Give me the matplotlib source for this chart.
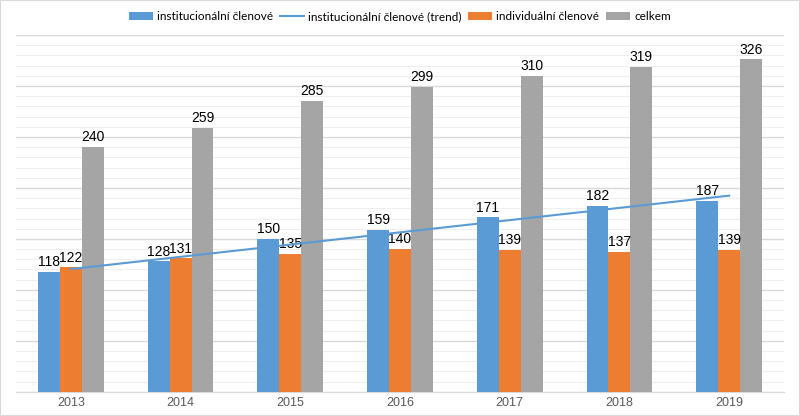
import numpy as np
import matplotlib.pyplot as plt
from matplotlib.ticker import MultipleLocator

years = ['2013', '2014', '2015', '2016', '2017', '2018', '2019']
instit = [118, 128, 150, 159, 171, 182, 187]
indiv = [122, 131, 135, 140, 139, 137, 139]
celkem = [240, 259, 285, 299, 310, 319, 326]

c_blue = '#5B9BD5'
c_orange = '#ED7D31'
c_gray = '#A5A5A5'

fig = plt.figure(figsize=(8, 4.16), dpi=100)
ax = fig.add_axes([0.02, 0.058, 0.96, 0.858])

x = np.arange(len(years))
w = 0.2

b1 = ax.bar(x - w, instit, w, color=c_blue, label='institucionální členové', zorder=3)
b2 = ax.bar(x, indiv, w, color=c_orange, label='individuální členové', zorder=3)
b3 = ax.bar(x + w, celkem, w, color=c_gray, label='celkem', zorder=3)

# linear trend of institutional members
k, q = np.polyfit(x, instit, 1)
ln, = ax.plot(x, k * x + q, color=c_blue, lw=1.5, zorder=4,
              label='institucionální členové (trend)')

for bars in (b1, b2, b3):
    ax.bar_label(bars, padding=2, fontsize=10, color='black', family='Liberation Sans')

ax.set_xlim(-0.5, len(years) - 0.5)
ax.set_ylim(0, 350)
ax.yaxis.set_major_locator(MultipleLocator(50))
ax.yaxis.set_minor_locator(MultipleLocator(10))
ax.grid(axis='y', which='major', color='#d9d9d9', lw=1, zorder=0)
ax.grid(axis='y', which='minor', color='#efefef', lw=0.8, zorder=0)
ax.set_yticklabels([])
ax.tick_params(axis='y', which='both', length=0)
ax.tick_params(axis='x', length=0, pad=4)
ax.set_xticks(x, years, fontsize=9, color='#595959', family='Liberation Sans')
for s in ['top', 'left', 'right']:
    ax.spines[s].set_visible(False)
ax.spines['bottom'].set_color('#d9d9d9')

fig.legend([b1, ln, b2, b3],
           ['institucionální členové', 'institucionální členové (trend)',
            'individuální členové', 'celkem'],
           loc='center', bbox_to_anchor=(0.5, 0.96), ncol=4, frameon=False,
           handlelength=2.0, handleheight=0.6, columnspacing=0.6,
           handletextpad=0.35, prop={'family': 'Lato', 'size': 8.5})

fig.patches.append(plt.Rectangle((0, 0), 1, 1, transform=fig.transFigure,
                                 fill=False, edgecolor='#d9d9d9', lw=1.5))

fig.savefig('out.png', dpi=100)
